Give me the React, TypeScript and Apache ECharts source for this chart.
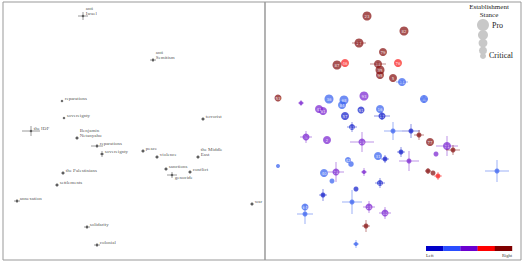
import React, { useEffect, useRef } from 'react';
import * as echarts from 'echarts';

// ---------- Left panel: word positions (arbitrary embedding units) ----------
const WORDS = [
  'anti\nIsrael', 'anti\nSemitism', 'reparations', 'sovereignty', 'the IDF',
  'Benjamin\nNetanyahu', 'reparations', 'sovereignty', 'the Palestinians', 'settlements',
  'annexation', 'solidarity', 'colonial', 'peace', 'violence',
  'terrorist', 'the Middle\nEast', 'sanctions', 'conflict', 'genocide', 'war',
];
const WORD_X = [8.0, 15.0, 5.9, 6.1, 2.8, 7.4, 9.4, 9.9, 6.0, 5.4, 1.4, 8.4, 9.4, 14.0, 15.4, 20.0, 19.5, 16.3, 18.7, 16.9, 24.9];
const WORD_Y = [24.4, 20.0, 15.9, 14.2, 12.9, 12.2, 11.4, 10.6, 8.7, 7.5, 5.9, 3.3, 1.5, 10.9, 10.3, 14.1, 10.3, 9.1, 8.8, 8.5, 5.6];
const WORD_XERR = [0.5, 0.3, 0, 0, 0.9, 0.2, 0.6, 0.2, 0.2, 0.2, 0.3, 0.3, 0.3, 0.2, 0.2, 0.2, 0.2, 0.2, 0.2, 0.5, 0.2];
const WORD_YERR = [0.4, 0.2, 0, 0, 0.5, 0.2, 0.2, 0.3, 0.2, 0.2, 0.2, 0.2, 0.2, 0.2, 0.2, 0.2, 0.2, 0.2, 0.2, 0.3, 0.2];

// ---------- Right panel: outlets ----------
const OUTLET_ID = [
  '23', '82', '27', '79', '76', '87', '46', '38', '35', '95',
  '5', '34', '53', '58', '36', '68', '84', '93', '41', '61',
  '57', '51', '16', '17', '83', '20', '9', '2', '29', '31',
  '12', '1', '40', '78', '42', '43', '66', '6', '14', '86',
  '77', '71', '90', '19', '72', '65', '88', '89', '92', '7',
  '44', '11', '47', '15', '64', '63', '22', '25', '30', '85', '3',
];
const OUTLET_X = [
  10.2, 13.9, 9.4, 11.8, 13.3, 7.2, 8.0, 11.3, 11.5, 11.5,
  12.8, 13.7, 1.3, 3.6, 6.4, 7.9, 7.7, 9.9, 5.4, 5.8,
  8.0, 9.6, 11.5, 11.7, 8.7, 12.8, 4.1, 6.2, 9.7, 11.3,
  12.0, 1.3, 5.9, 7.1, 8.3, 8.6, 9.9, 15.9, 14.6, 15.4,
  16.5, 18.2, 18.8, 13.6, 17.1, 14.4, 16.3, 16.8, 17.3, 23.2,
  6.7, 11.5, 9.1, 5.8, 4.0, 4.0, 8.7, 10.4, 12.0, 10.1, 9.1,
];
const OUTLET_Y = [
  24.4, 22.9, 21.7, 20.8, 19.7, 19.5, 19.7, 19.6, 19.0, 18.5,
  18.2, 17.8, 16.2, 15.7, 16.1, 16.0, 15.5, 16.4, 15.1, 14.9,
  14.4, 15.0, 15.1, 14.4, 13.3, 12.9, 12.3, 12.0, 11.8, 10.4,
  10.1, 9.4, 8.7, 8.8, 10.0, 9.6, 8.8, 16.1, 12.9, 12.5,
  11.8, 11.4, 11.0, 10.8, 10.6, 9.9, 8.9, 8.7, 8.4, 8.9,
  7.9, 7.7, 7.1, 6.5, 5.3, 4.6, 5.8, 5.3, 4.7, 3.4, 1.6,
];
// establishment stance -> marker diameter
const OUTLET_SIZE = [
  9, 9, 9, 8, 8, 9, 8, 8, 9, 8,
  8, 8, 7, 4, 9, 9, 8, 9, 8, 8,
  8, 7, 8, 7, 6, 5, 7, 8, 7, 8,
  5, 4, 8, 7, 6, 5.5, 4, 8, 5, 5,
  8, 8, 5, 5, 5, 5, 5, 5, 5, 5,
  5, 6, 5, 5, 7, 5, 5, 7, 7, 5, 4,
];
// political leaning: 0 left .. 4 right
const OUTLET_LEAN = [
  4, 4, 4, 4, 3, 4, 3, 4, 4, 4,
  4, 1, 4, 2, 1, 1, 1, 2, 2, 2,
  0, 0, 1, 0, 0, 1, 2, 2, 2, 1,
  0, 1, 1, 2, 1, 1, 2, 1, 0, 4,
  4, 2, 4, 0, 2, 2, 4, 4, 3, 1,
  1, 0, 0, 0, 1, 1, 1, 2, 2, 4, 1,
];
const OUTLET_XERR = [
  0, 0, 0.7, 0, 0, 0, 0, 0.8, 0, 0,
  0, 0.6, 0, 0.3, 0, 0, 0, 0, 0, 0,
  0, 0, 0, 0.8, 0.5, 0.9, 0.6, 0, 1.2, 0,
  0.4, 0, 0, 0.8, 0, 0, 0.3, 0.4, 0.9, 0.5,
  0, 1.1, 0.7, 0.4, 0, 1.0, 0.3, 0, 0.4, 1.2,
  0, 0.5, 0, 0.4, 0, 0.8, 1.0, 0.6, 0.6, 0.4, 0.3,
];
const OUTLET_YERR = [
  0, 0, 0.2, 0, 0, 0, 0, 0.2, 0, 0,
  0, 0.2, 0, 0.3, 0, 0, 0, 0, 0, 0,
  0, 0, 0, 0.4, 0.5, 0.9, 0.6, 0, 1.0, 0,
  0.4, 0, 0, 1.0, 0, 0, 0.4, 0.4, 0.7, 0.5,
  0, 1.0, 0.5, 0.5, 0, 1.0, 0.3, 0, 0.4, 1.1,
  0, 0.5, 0, 0.6, 0, 1.0, 1.2, 0.6, 0.6, 0.6, 0.4,
];

const LEAN_RGB = [
  [25, 35, 205],
  [60, 100, 240],
  [125, 40, 210],
  [250, 35, 35],
  [135, 20, 20],
];
const BAR_COLORS = ['#0000c8', '#2a4dff', '#6a00d0', '#ff0000', '#800000'];
const LEGEND_R = [6, 5, 4.4, 4, 3];
const LEGEND_CY = [25, 35, 43, 50.5, 56];

const rgba = (c: number[], a: number) => `rgba(${c[0]},${c[1]},${c[2]},${a})`;

const crossRenderer = (colorOf: (i: number) => string) => (params: any, api: any) => {
  const x = api.value(0), y = api.value(1), xe = api.value(2), ye = api.value(3);
  if (!xe && !ye) return null;
  const l = api.coord([x - xe, y]);
  const r = api.coord([x + xe, y]);
  const t = api.coord([x, y + ye]);
  const b = api.coord([x, y - ye]);
  const stroke = colorOf(params.dataIndex);
  return {
    type: 'group',
    children: [
      { type: 'line', shape: { x1: l[0], y1: l[1], x2: r[0], y2: r[1] }, style: { stroke, lineWidth: 1 } },
      { type: 'line', shape: { x1: t[0], y1: t[1], x2: b[0], y2: b[1] }, style: { stroke, lineWidth: 1 } },
    ],
  };
};

const SERIF = 'Liberation Serif';

function buildOption() {
  const wordData = WORDS.map((w, i) => {
    const below = w === 'genocide';
    return {
      name: w,
      value: [WORD_X[i], WORD_Y[i]],
      label: below ? { verticalAlign: 'top', offset: [0, 0] } : undefined,
    };
  });
  const wordErr = WORDS.map((_, i) => [WORD_X[i], WORD_Y[i], WORD_XERR[i], WORD_YERR[i]]);
  const outletData = OUTLET_ID.map((id, i) => ({
    name: id,
    value: [OUTLET_X[i], OUTLET_Y[i]],
    symbolSize: OUTLET_SIZE[i],
    itemStyle: { color: rgba(LEAN_RGB[OUTLET_LEAN[i]], 0.92) },
    label: { show: OUTLET_SIZE[i] >= 6 },
  }));
  const outletErr = OUTLET_ID.map((_, i) => [OUTLET_X[i], OUTLET_Y[i], OUTLET_XERR[i], OUTLET_YERR[i]]);

  const graphics: any[] = [
    { type: 'text', x: 489, y: 3.5, style: { text: 'Establishment', font: `7px "${SERIF}"`, fill: '#222', align: 'center' } },
    { type: 'text', x: 489, y: 11, style: { text: 'Stance', font: `7px "${SERIF}"`, fill: '#222', align: 'center' } },
    { type: 'text', left: 492, top: 21, style: { text: 'Pro', font: `8px "${SERIF}"`, fill: '#222' } },
    { type: 'text', left: 489, top: 51, style: { text: 'Critical', font: `8px "${SERIF}"`, fill: '#222' } },
    { type: 'text', left: 426, top: 253, style: { text: 'Left', font: `4.5px "${SERIF}"`, fill: '#333' } },
    { type: 'text', right: 11, top: 253, style: { text: 'Right', font: `4.5px "${SERIF}"`, fill: '#333' } },
  ];
  LEGEND_R.forEach((r, i) => {
    graphics.push({ type: 'circle', shape: { cx: 483, cy: LEGEND_CY[i], r }, style: { fill: '#c8c8c8' } });
  });
  BAR_COLORS.forEach((c, i) => {
    graphics.push({ type: 'rect', shape: { x: 426 + i * 17.2, y: 246, width: 17.4, height: 5 }, style: { fill: c } });
  });

  return {
    animation: false,
    backgroundColor: '#fff',
    grid: [
      { left: 3, top: 2, width: 262, height: 258, show: true, borderColor: '#999', borderWidth: 1 },
      { left: 265, top: 2, width: 256, height: 258, show: true, borderColor: '#999', borderWidth: 1 },
    ],
    xAxis: [
      { type: 'value', gridIndex: 0, min: 0, max: 26.2, show: false },
      { type: 'value', gridIndex: 1, min: 0, max: 25.6, show: false },
    ],
    yAxis: [
      { type: 'value', gridIndex: 0, min: 0, max: 25.8, show: false },
      { type: 'value', gridIndex: 1, min: 0, max: 25.8, show: false },
    ],
    graphic: graphics,
    series: [
      {
        type: 'custom',
        xAxisIndex: 0,
        yAxisIndex: 0,
        data: wordErr,
        encode: { x: 0, y: 1 },
        renderItem: crossRenderer(() => '#9a9a9a'),
        silent: true,
        z: 2,
      },
      {
        type: 'scatter',
        xAxisIndex: 0,
        yAxisIndex: 0,
        symbol: 'circle',
        symbolSize: 2.5,
        itemStyle: { color: '#444' },
        data: wordData,
        label: {
          show: true,
          position: 'right',
          distance: 1.5,
          verticalAlign: 'bottom',
          formatter: (p: any) => p.name,
          fontFamily: SERIF,
          fontSize: 5,
          lineHeight: 5,
          color: '#222',
        },
        z: 3,
      },
      {
        type: 'scatter',
        xAxisIndex: 1,
        yAxisIndex: 1,
        symbol: 'circle',
        data: outletData,
        label: {
          position: 'inside',
          formatter: (p: any) => p.name,
          fontFamily: 'DejaVu Sans',
          fontSize: 4,
          color: '#fff',
        },
        z: 3,
      },
      {
        type: 'custom',
        xAxisIndex: 1,
        yAxisIndex: 1,
        data: outletErr,
        encode: { x: 0, y: 1 },
        renderItem: crossRenderer((i) => rgba(LEAN_RGB[OUTLET_LEAN[i]], 0.5)),
        silent: true,
        z: 4,
      },
    ],
  };
}

export default function App() {
  const ref = useRef<HTMLDivElement>(null);
  useEffect(() => {
    const chart = echarts.init(ref.current!, null, { renderer: 'svg' });
    chart.setOption(buildOption() as any);
    return () => chart.dispose();
  }, []);
  return (
    <div
      ref={ref}
      style={{ position: 'fixed', left: 0, top: 0, width: 523, height: 264 }}
    />
  );
}
